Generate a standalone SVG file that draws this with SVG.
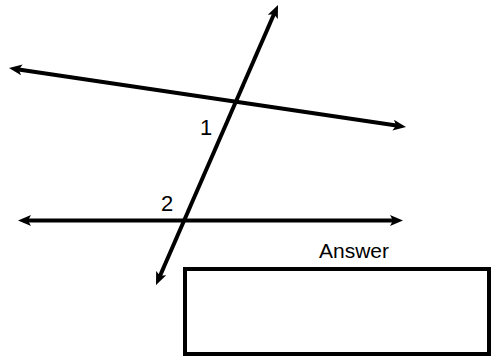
<svg xmlns="http://www.w3.org/2000/svg" width="492" height="357" viewBox="0 0 492 357">
<style>
.ln{stroke:#000;stroke-width:4;fill:none;marker-start:url(#ah);marker-end:url(#ah)}
.lbl{font-family:"Liberation Sans",Arial,sans-serif;font-size:22px;fill:#000}
.box{fill:#fff;stroke:#000;stroke-width:4}
</style>
<defs>
<marker id="ah" markerUnits="userSpaceOnUse" markerWidth="15" markerHeight="13" refX="5" refY="6.5" orient="auto-start-reverse">
<path d="M0 1 L13 6.5 L0 12 L3 6.5 Z" fill="#000"/>
</marker>
</defs>
<rect width="492" height="357" fill="#fff"/>
<g id="connectors">
<line class="ln" x1="16.9" y1="69.2" x2="398.1" y2="125.8"/>
<line class="ln" x1="159.2" y1="277.7" x2="274.8" y2="12.3"/>
<line class="ln" x1="26" y1="220.5" x2="395" y2="220.5"/>
</g>
<g id="label1"><text class="lbl" x="200" y="135">1</text></g>
<g id="label2"><text class="lbl" x="161" y="211">2</text></g>
<g id="answer">
<text class="lbl" x="319" y="257.5" style="font-size:21px">Answer</text>
<rect class="box" x="185" y="269" width="304" height="85"/>
</g>
</svg>
